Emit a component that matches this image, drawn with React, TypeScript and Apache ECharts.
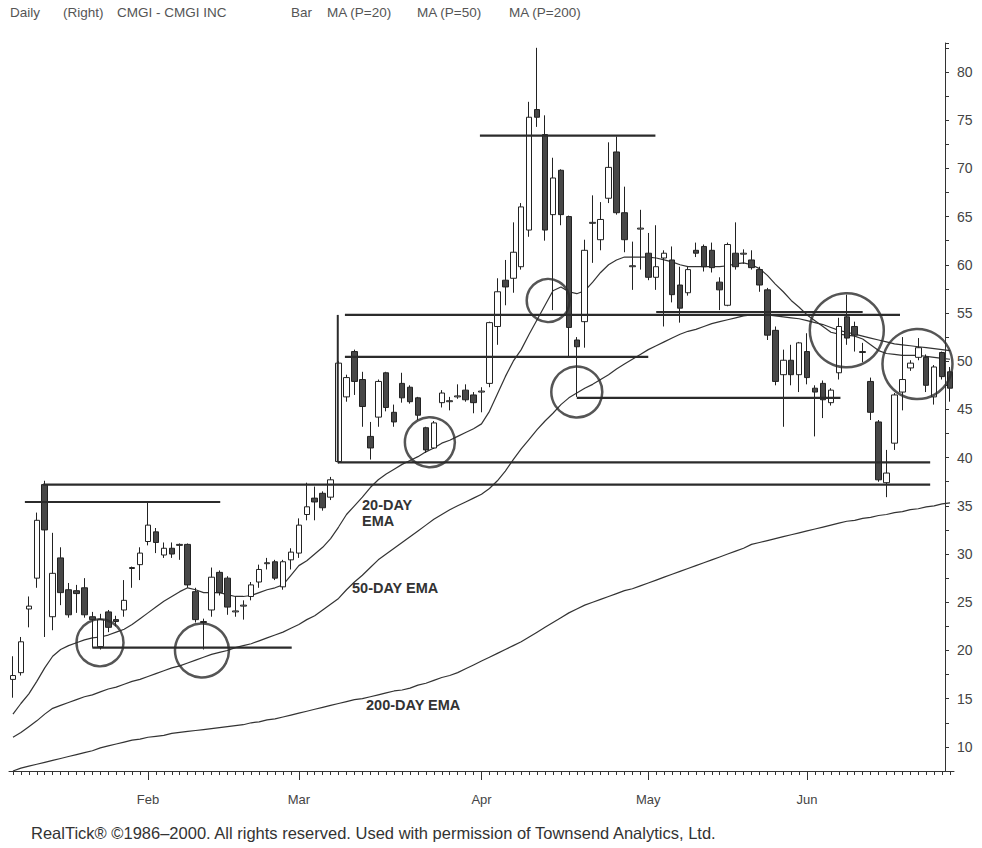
import React, { useEffect, useRef } from 'react';
import * as echarts from 'echarts';

// ---- data ----
const months = ['Jan', 'Feb', 'Mar', 'Apr', 'May', 'Jun'];
const barsPerMonth = [17, 19, 23, 21, 20, 19];

// [open, close, low, high]
const ohlc: number[][] = [
  [17.0, 17.4, 15.1, 19.4], [17.7, 20.9, 17.4, 21.4], [24.3, 24.6, 22.4, 25.6], [27.5, 33.5, 26.5, 34.3],
  [37.2, 32.5, 21.4, 37.6], [23.5, 28.0, 22.1, 32.2], [29.6, 26.0, 24.7, 30.7], [26.3, 23.7, 23.4, 27.0],
  [26.2, 25.9, 23.9, 26.8], [26.5, 23.7, 23.4, 27.5], [23.5, 23.2, 20.3, 24.0], [20.4, 23.2, 20.1, 23.8],
  [24.0, 22.4, 21.9, 24.2], [23.2, 23.0, 22.5, 23.6], [24.2, 25.2, 23.5, 27.3], [28.5, 28.6, 26.5, 28.7],
  [28.9, 30.1, 27.3, 30.7], [31.3, 33.0, 30.9, 35.4], [32.3, 31.2, 30.1, 32.7], [29.9, 30.6, 29.6, 31.2],
  [30.6, 30.0, 29.6, 31.2], [30.9, 31.0, 29.4, 31.1], [31.0, 26.8, 26.5, 31.1], [26.1, 23.2, 22.9, 26.5],
  [22.9, 23.0, 20.1, 23.3], [24.2, 27.6, 23.5, 28.6], [28.1, 26.0, 25.7, 28.3], [27.5, 24.5, 23.7, 27.7],
  [24.0, 24.1, 23.5, 25.6], [24.6, 24.7, 23.2, 25.2], [25.6, 26.8, 25.2, 27.1], [27.1, 28.4, 26.5, 28.9],
  [29.0, 29.1, 28.4, 29.6], [29.2, 27.5, 27.3, 29.4], [26.6, 29.2, 26.3, 29.4], [29.4, 30.2, 28.4, 30.6],
  [30.1, 33.0, 29.6, 33.7], [34.1, 34.9, 33.5, 37.4], [35.8, 35.4, 33.5, 37.0], [36.3, 34.8, 34.5, 36.5],
  [35.9, 37.7, 35.6, 38.0], [39.6, 49.8, 39.4, 50.0], [46.3, 48.3, 45.8, 48.6], [51.0, 47.9, 46.5, 51.2],
  [48.1, 45.3, 43.2, 48.9], [42.2, 41.0, 39.8, 43.7], [44.2, 47.9, 43.2, 48.1], [48.8, 45.2, 44.8, 48.9],
  [44.7, 43.7, 43.2, 45.5], [47.7, 46.2, 45.7, 48.8], [47.3, 45.8, 45.6, 47.5], [46.2, 44.4, 43.9, 46.3],
  [43.1, 40.8, 40.5, 43.2], [41.0, 43.6, 40.9, 43.8], [45.7, 46.7, 45.2, 47.0], [45.8, 45.9, 44.9, 46.3],
  [46.3, 46.4, 46.1, 47.6], [47.0, 46.0, 45.8, 47.6], [46.5, 45.7, 44.6, 46.8], [46.8, 46.9, 44.7, 47.3],
  [47.7, 54.0, 47.3, 54.1], [53.6, 57.2, 51.7, 58.6], [58.4, 57.7, 55.8, 60.5], [58.6, 61.3, 57.1, 64.4],
  [59.8, 66.0, 59.5, 66.4], [63.6, 75.3, 62.9, 76.9], [76.1, 75.3, 74.3, 82.5], [73.5, 63.6, 62.5, 75.5],
  [65.2, 69.0, 55.3, 71.1], [69.8, 65.2, 64.1, 69.9], [65.0, 53.5, 50.5, 65.1], [52.2, 51.5, 46.3, 52.5],
  [54.1, 61.5, 51.4, 62.6], [64.3, 64.4, 60.2, 67.2], [62.6, 64.7, 61.5, 66.5], [66.9, 70.1, 66.4, 72.7],
  [71.7, 65.4, 65.2, 73.3], [65.4, 62.6, 61.3, 68.1], [59.8, 59.9, 57.4, 62.4], [63.7, 63.8, 59.5, 65.7],
  [61.2, 58.7, 58.4, 63.3], [58.7, 59.8, 57.4, 64.1], [60.7, 61.2, 53.6, 61.5], [60.5, 56.9, 56.1, 61.9],
  [57.9, 55.5, 54.0, 59.8], [57.1, 59.5, 56.8, 59.8], [61.5, 61.2, 60.8, 62.3], [61.9, 59.8, 59.3, 62.1],
  [61.5, 59.7, 59.2, 62.3], [58.2, 57.4, 55.3, 58.7], [55.8, 62.1, 55.7, 62.3], [61.2, 59.8, 59.5, 64.4],
  [61.1, 61.2, 60.1, 61.6], [60.5, 59.7, 59.5, 61.5], [59.5, 57.9, 57.2, 59.8], [57.4, 52.7, 52.2, 57.6],
  [53.2, 47.9, 47.5, 53.6], [48.6, 50.1, 43.2, 51.2], [50.1, 48.6, 47.5, 51.7], [48.6, 51.9, 46.8, 52.0],
  [51.0, 48.3, 47.6, 52.9], [47.2, 46.8, 42.2, 47.5], [47.7, 46.0, 44.1, 48.0], [45.7, 47.0, 45.4, 47.2],
  [48.8, 53.6, 48.1, 54.5], [54.6, 52.4, 51.7, 56.9], [53.6, 52.7, 51.0, 54.1], [50.9, 51.0, 49.9, 51.9],
  [47.9, 44.7, 43.9, 48.3], [43.7, 37.7, 37.5, 43.9], [37.4, 38.4, 35.9, 40.8], [41.5, 46.5, 40.8, 46.7],
  [46.8, 48.1, 44.9, 52.5], [49.3, 49.8, 49.0, 50.1], [50.4, 51.4, 50.1, 52.4], [50.4, 47.5, 46.8, 50.7],
  [46.3, 49.4, 45.5, 49.6], [50.9, 48.4, 48.1, 51.0], [48.9, 47.2, 45.8, 49.4],
];

const ema20 = [
  13.4, 14.5, 15.5, 16.8, 18.2, 19.4, 20.1, 20.5, 20.8, 21.1, 21.3, 21.4, 21.6, 21.9, 22.2, 22.7, 23.3, 23.9, 24.5, 25.1,
  25.6, 26.1, 26.5, 26.3, 26.0, 26.0, 26.0, 25.8, 25.6, 25.6, 25.7, 26.0, 26.3, 26.5, 26.8, 27.8, 28.8, 29.3, 30.0, 30.7,
  31.6, 32.8, 34.1, 35.0, 35.9, 36.9, 37.7, 38.3, 38.8, 39.3, 39.7, 40.1, 40.6, 41.0, 41.5, 41.8, 42.2, 42.6, 43.0, 43.5,
  44.8, 46.6, 48.4, 50.0, 51.2, 52.8, 54.3, 55.8, 57.3, 57.7, 57.2, 57.0, 57.3, 58.2, 59.2, 60.0, 60.5, 60.8, 60.8, 60.8,
  60.8, 60.7, 60.5, 60.3, 60.0, 59.8, 59.8, 59.8, 59.8, 59.8, 59.9, 60.1, 60.2, 60.0, 59.6, 58.9, 58.0, 57.2, 56.3, 55.6,
  54.8, 54.2, 53.6, 53.0, 52.8, 52.7, 52.6, 52.3, 51.7, 51.1, 50.8, 50.7, 50.6, 50.6, 50.6, 50.5, 50.4, 50.3, 50.2,
];

const ema50 = [
  11.0, 11.5, 12.1, 12.7, 13.4, 14.0, 14.3, 14.6, 14.9, 15.2, 15.4, 15.7, 16.0, 16.2, 16.5, 16.8, 17.0, 17.3, 17.6, 17.9,
  18.2, 18.4, 18.7, 19.0, 19.3, 19.6, 19.8, 20.0, 20.3, 20.5, 20.7, 21.0, 21.3, 21.6, 21.9, 22.3, 22.7, 23.2, 23.6, 24.2,
  24.8, 25.4, 26.3, 27.1, 27.8, 28.6, 29.4, 30.0, 30.6, 31.2, 31.8, 32.4, 33.0, 33.6, 34.1, 34.6, 35.0, 35.4, 35.8, 36.2,
  36.8, 37.6, 38.6, 39.8, 40.9, 41.9, 42.9, 43.8, 44.6, 45.5, 46.2, 46.7, 47.2, 47.6, 48.1, 48.6, 49.2, 49.7, 50.2, 50.7,
  51.2, 51.6, 52.0, 52.4, 52.8, 53.1, 53.3, 53.6, 53.9, 54.1, 54.3, 54.5, 54.7, 54.8, 54.8, 54.8, 54.7, 54.6, 54.5, 54.4,
  54.2, 54.0, 53.8, 53.5, 53.2, 53.0, 52.8, 52.6, 52.4, 52.2, 52.0, 51.8, 51.7, 51.6, 51.5, 51.4, 51.3, 51.2, 51.1,
];

const ema200 = [
  7.5, 7.8, 8.0, 8.2, 8.4, 8.6, 8.8, 9.0, 9.2, 9.4, 9.6, 9.9, 10.1, 10.3, 10.5, 10.7, 10.8, 11.0, 11.1, 11.2,
  11.4, 11.5, 11.6, 11.7, 11.8, 11.9, 12.0, 12.1, 12.2, 12.3, 12.5, 12.6, 12.8, 12.9, 13.1, 13.3, 13.5, 13.7, 13.9, 14.1,
  14.3, 14.5, 14.7, 14.9, 15.0, 15.2, 15.4, 15.6, 15.8, 15.9, 16.1, 16.4, 16.6, 16.9, 17.2, 17.4, 17.7, 18.1, 18.5, 18.9,
  19.3, 19.7, 20.1, 20.5, 20.9, 21.4, 21.9, 22.4, 22.9, 23.4, 23.9, 24.3, 24.7, 25.0, 25.3, 25.6, 25.9, 26.2, 26.4, 26.7,
  27.0, 27.3, 27.6, 27.9, 28.2, 28.5, 28.8, 29.1, 29.4, 29.7, 30.0, 30.3, 30.6, 31.0, 31.2, 31.4, 31.6, 31.8, 32.0, 32.2,
  32.4, 32.6, 32.8, 33.0, 33.2, 33.4, 33.5, 33.7, 33.8, 34.0, 34.1, 34.3, 34.4, 34.6, 34.7, 34.9, 35.0, 35.2, 35.3,
];

// drawn support / resistance lines: [price, from bar index, to bar index]
const supportLines: number[][] = [
  [37.2, 3.8, 115.5],
  [35.4, 1.5, 26.1],
  [20.3, 10.0, 35.1],
  [39.5, 40.9, 115.5],
  [54.8, 41.8, 111.7],
  [55.1, 81.0, 107.0],
  [50.45, 41.8, 80.0],
  [73.4, 58.8, 80.9],
  [46.2, 71.0, 104.2],
];
// vertical drawn line: [bar index, from price, to price]
const verticalLines: number[][] = [[40.9, 54.8, 39.5]];
// circled areas: [bar index, price, diameter]
const circles: number[][] = [
  [10.96, 20.8, 47],
  [23.8, 20.0, 54],
  [52.5, 41.6, 50],
  [67.4, 56.3, 43],
  [71.0, 46.8, 51],
  [105.0, 53.2, 74],
  [113.9, 49.7, 70],
];

const headerItems: [string, number][] = [
  ['Daily', 10],
  ['(Right)', 63],
  ['CMGI - CMGI INC', 117],
  ['Bar', 291],
  ['MA (P=20)', 327],
  ['MA (P=50)', 417],
  ['MA (P=200)', 509],
];

const footer = 'RealTick\u00AE \u00A91986\u20132000. All rights reserved. Used with permission of Townsend Analytics, Ltd.';

// ---- chart ----
const FONT = '"Liberation Sans", Arial, Helvetica, sans-serif';
const INK = '#2b2b2b';

const categories: string[] = months.flatMap((m, mi) =>
  Array.from({ length: barsPerMonth[mi] }, (_, k) => `${m} ${k + 1}`)
);
const isMonthStart = (v: string) => v.endsWith(' 1') && !v.startsWith('Jan');

function buildOption(): any {
  const lineSeries = [ema20, ema50, ema200].map((d, i) => ({
    type: 'line',
    name: ['MA (P=20)', 'MA (P=50)', 'MA (P=200)'][i],
    data: d,
    xAxisIndex: 0,
    symbol: 'none',
    smooth: false,
    z: 2,
    lineStyle: { color: '#333', width: 1.2 },
    silent: true,
  }));

  const drawnSeries = supportLines.map(([v, a, b]) => ({
    type: 'line',
    xAxisIndex: 2,
    data: [[a, v], [b, v]],
    symbol: 'none',
    z: 4,
    lineStyle: { color: INK, width: 2.2 },
    silent: true,
  }));
  const verticalSeries = verticalLines.map(([x, v1, v2]) => ({
    type: 'line',
    xAxisIndex: 2,
    data: [[x, v1], [x, v2]],
    symbol: 'none',
    z: 4,
    lineStyle: { color: INK, width: 2 },
    silent: true,
  }));

  const circleSeries = {
    type: 'scatter',
    xAxisIndex: 2,
    data: circles,
    symbol: 'circle',
    symbolSize: (val: number[]) => val[2],
    z: 5,
    silent: true,
    itemStyle: { color: 'rgba(0,0,0,0)', borderColor: INK, borderWidth: 2.5 },
  };

  const graphics: any[] = [];
  headerItems.forEach(([t, x]) => {
    graphics.push({
      type: 'text', x, y: 12,
      style: { text: t, fill: '#555', fontSize: 13.5, fontFamily: FONT, align: 'left', verticalAlign: 'middle' },
    });
  });
  graphics.push({
    type: 'text', x: 31, y: 833,
    style: { text: footer, fill: '#333', fontSize: 16.5, fontFamily: FONT, align: 'left', verticalAlign: 'middle' },
  });
  const emaLabels: [string, number, number][] = [
    ['20-DAY', 362, 505],
    ['EMA', 362, 521],
    ['50-DAY EMA', 352, 588],
    ['200-DAY EMA', 366, 705],
  ];
  emaLabels.forEach(([t, x, y]) => {
    graphics.push({
      type: 'text', x, y, z: 10,
      style: { text: t, fill: '#333', fontSize: 14.5, fontWeight: 'bold', fontFamily: FONT, align: 'left', verticalAlign: 'middle' },
    });
  });

  return {
    animation: false,
    backgroundColor: '#ffffff',
    grid: { left: 9, right: 28, top: 43, bottom: 77, containLabel: false },
    xAxis: [
      {
        type: 'category',
        data: categories,
        boundaryGap: true,
        axisLine: { show: true, onZero: false, lineStyle: { color: '#333', width: 1 } },
        axisTick: { show: true, interval: 0, alignWithLabel: true, length: 4, lineStyle: { color: '#333' } },
        axisLabel: {
          interval: (_i: number, v: string) => isMonthStart(v),
          formatter: (v: string) => v.split(' ')[0],
          margin: 22,
          fontSize: 13,
          color: '#444',
          fontFamily: FONT,
        },
        splitLine: { show: false },
      },
      {
        type: 'category',
        data: categories,
        position: 'bottom',
        boundaryGap: true,
        axisLine: { show: false, onZero: false },
        axisTick: {
          show: true,
          interval: (_i: number, v: string) => isMonthStart(v),
          alignWithLabel: true,
          length: 9,
          lineStyle: { color: '#333' },
        },
        axisLabel: { show: false },
        splitLine: { show: false },
      },
      {
        type: 'value',
        min: -0.5,
        max: categories.length - 0.5,
        show: false,
        axisLine: { onZero: false },
        splitLine: { show: false },
      },
    ],
    yAxis: {
      type: 'value',
      position: 'right',
      offset: -9,
      min: 7.5,
      max: 83,
      interval: 2.5,
      axisLine: { show: true, onZero: false, lineStyle: { color: '#333', width: 1 } },
      axisTick: { show: true, length: 4, lineStyle: { color: '#333' } },
      axisLabel: {
        formatter: (v: number) => (Math.abs(v % 5) < 1e-6 ? String(v) : ''),
        margin: 12,
        fontSize: 14,
        color: '#444',
        fontFamily: FONT,
      },
      splitLine: { show: false },
    },
    series: [
      ...lineSeries,
      {
        type: 'candlestick',
        name: 'Bar',
        data: ohlc,
        xAxisIndex: 0,
        barWidth: 6,
        z: 3,
        silent: true,
        itemStyle: {
          color: '#ffffff',
          color0: '#474747',
          borderColor: '#222',
          borderColor0: '#222',
          borderWidth: 1,
        },
      },
      ...drawnSeries,
      ...verticalSeries,
      circleSeries,
    ],
    graphic: graphics,
  };
}

export default function App() {
  const ref = useRef<HTMLDivElement>(null);
  useEffect(() => {
    if (!ref.current) return;
    const chart = echarts.init(ref.current, null, { renderer: 'svg' });
    chart.setOption(buildOption());
    return () => chart.dispose();
  }, []);
  return (
    <div
      ref={ref}
      style={{ position: 'fixed', left: 0, top: 0, width: 982, height: 848, background: '#fff' }}
    />
  );
}
